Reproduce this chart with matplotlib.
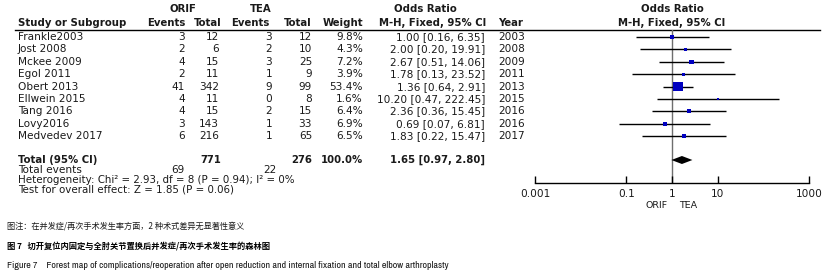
import matplotlib
matplotlib.use("Agg")
import matplotlib.pyplot as plt
import numpy as np

# ---- data ----
studies = ["Frankle2003", "Jost 2008", "Mckee 2009", "Egol 2011", "Obert 2013",
           "Ellwein 2015", "Tang 2016", "Lovy2016", "Medvedev 2017"]
orif_events = [3, 2, 4, 2, 41, 4, 4, 3, 6]
orif_total = [12, 6, 15, 11, 342, 11, 15, 143, 216]
tea_events = [3, 2, 3, 1, 9, 0, 2, 1, 1]
tea_total = [12, 10, 25, 9, 99, 8, 15, 33, 65]
weight = [9.8, 4.3, 7.2, 3.9, 53.4, 1.6, 6.4, 6.9, 6.5]
odds = [1.00, 2.00, 2.67, 1.78, 1.36, 10.20, 2.36, 0.69, 1.83]
ci_lo = [0.16, 0.20, 0.51, 0.13, 0.64, 0.47, 0.36, 0.07, 0.22]
ci_hi = [6.35, 19.91, 14.06, 23.52, 2.91, 222.45, 15.45, 6.81, 15.47]
years = [2003, 2008, 2009, 2011, 2013, 2015, 2016, 2016, 2017]

tot_orif, tot_tea = 771, 276
tot_ev_orif, tot_ev_tea = 69, 22
tot_or, tot_lo, tot_hi = 1.65, 0.97, 2.80
xticks = [0.001, 0.1, 1, 10, 1000]
xticklabels = ["0.001", "0.1", "1", "10", "1000"]

W, H = 827, 280
fnt = "DejaVu Sans"
fs = 7.6
tc = "#1a1a1a"

fig = plt.figure(figsize=(W / 100, H / 100), dpi=100)
ax = fig.add_axes([0, 0, 1, 1])
ax.set_xlim(0, W)
ax.set_ylim(H, 0)
ax.axis("off")

def t(x, y, s, ha="left", bold=False, size=fs, **kw):
    ax.text(x, y, s, ha=ha, va="center", family=fnt, fontsize=size,
            fontweight="bold" if bold else "normal", color=tc, **kw)

bs = 7.3  # bold header size
# headers
t(183, 9, "ORIF", ha="center", bold=True, size=bs)
t(272, 9, "TEA", ha="right", bold=True, size=bs)
t(425, 9, "Odds Ratio", ha="center", bold=True, size=bs)
t(672, 9, "Odds Ratio", ha="center", bold=True, size=bs)
t(18, 23, "Study or Subgroup", bold=True, size=bs)
t(185, 23, "Events", ha="right", bold=True, size=bs)
t(222, 23, "Total", ha="right", bold=True, size=bs)
t(270, 23, "Events", ha="right", bold=True, size=bs)
t(312, 23, "Total", ha="right", bold=True, size=bs)
t(363, 23, "Weight", ha="right", bold=True, size=bs)
t(433, 23, "M-H, Fixed, 95% CI", ha="center", bold=True, size=bs)
t(498, 23, "Year", bold=True, size=bs)
t(672, 23, "M-H, Fixed, 95% CI", ha="center", bold=True, size=bs)
ax.plot([15, 820], [30, 30], color="black", lw=1.0)

y0, dy = 37, 12.4
rows = [y0 + i * dy for i in range(len(studies))]
for i, y in enumerate(rows):
    t(18, y, studies[i])
    t(185, y, str(orif_events[i]), ha="right")
    t(219, y, str(orif_total[i]), ha="right")
    t(272, y, str(tea_events[i]), ha="right")
    t(312, y, str(tea_total[i]), ha="right")
    t(363, y, "%.1f%%" % weight[i], ha="right")
    t(485, y, "%.2f [%.2f, %.2f]" % (odds[i], ci_lo[i], ci_hi[i]), ha="right")
    t(498, y, str(years[i]))

ytot = 160
t(18, ytot, "Total (95% CI)", bold=True, size=bs)
t(221, ytot, str(tot_orif), ha="right", bold=True, size=bs)
t(312, ytot, str(tot_tea), ha="right", bold=True, size=bs)
t(363, ytot, "100.0%", ha="right", bold=True, size=bs)
t(485, ytot, "%.2f [%.2f, %.2f]" % (tot_or, tot_lo, tot_hi), ha="right", bold=True, size=bs)
t(18, 170, "Total events")
t(185, 170, str(tot_ev_orif), ha="right")
t(276, 170, str(tot_ev_tea), ha="right")
t(18, 180, "Heterogeneity: Chi² = 2.93, df = 8 (P = 0.94); I² = 0%", size=7.4)
t(18, 189.5, "Test for overall effect: Z = 1.85 (P = 0.06)", size=7.4)

# ---- forest panel ----
xl, xr, ytop, yax = 535, 809, 30, 183
fa = fig.add_axes([xl / W, (H - yax) / H, (xr - xl) / W, (yax - ytop) / H])
fa.set_xscale("log")
fa.set_xlim(xticks[0], xticks[-1])
fa.set_ylim(yax, ytop)
fa.patch.set_alpha(0)
for s in ["top", "left", "right"]:
    fa.spines[s].set_visible(False)
fa.spines["bottom"].set_linewidth(1.0)
fa.set_yticks([])
fa.set_xticks(xticks)
fa.set_xticklabels(xticklabels, family=fnt, fontsize=7.6, color=tc)
fa.minorticks_off()
fa.tick_params(axis="x", direction="in", length=5, width=1.0, pad=4)
fa.axvline(1, color="#6e6e6e", lw=1.0, zorder=1)

fa.hlines(rows, ci_lo, ci_hi, color="black", lw=1.0, zorder=2)
side = (1.2 * np.sqrt(np.array(weight)) + 1.0) * 0.72
fa.scatter(odds, rows, marker="s", s=side ** 2, color="#0000c0", lw=0, zorder=3)
fa.fill([tot_lo, tot_or, tot_hi, tot_or], [ytot, ytot - 4, ytot, ytot + 4],
        color="black", lw=0, zorder=3)

t(668, 205, "ORIF", ha="right", size=6.8)
t(679, 205, "TEA", size=6.8)

# ---- captions ----
cjk = ["Noto Sans CJK SC", "DejaVu Sans"]
ax.text(7, 226, "图注：在并发症/再次手术发生率方面，2 种术式差异无显著性意义",
        family=cjk, fontsize=5.9, va="center", color=tc)
ax.text(7, 246, "图 7   切开复位内固定与全肘关节置换后并发症/再次手术发生率的森林图",
        family=cjk, fontsize=5.95, fontweight="bold", va="center", color="black")
ax.text(7, 266, "Figure 7    Forest map of complications/reoperation after open reduction "
        "and internal fixation and total elbow arthroplasty",
        family=["Liberation Sans Narrow", "Archivo Narrow", "DejaVu Sans"], fontsize=7.15,
        va="center", color=tc)

fig.savefig("out.png", dpi=100)
